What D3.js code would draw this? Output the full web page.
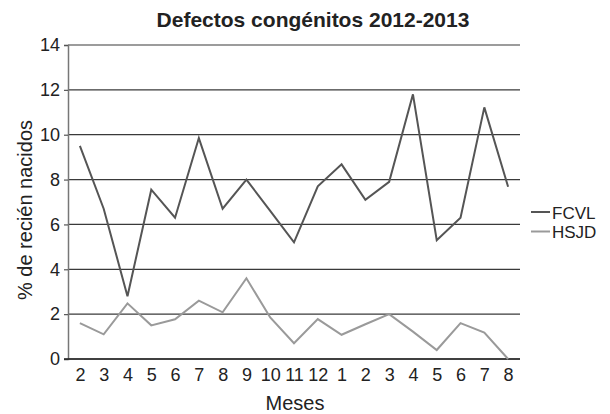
<!DOCTYPE html>
<html>
<head>
<meta charset="utf-8">
<script src="https://cdn.jsdelivr.net/npm/d3@7"></script>
<style>
  html, body { margin: 0; padding: 0; background: #fff; }
  svg { display: block; font-family: "Liberation Sans", Arial, Helvetica, sans-serif; }
</style>
</head>
<body>
<svg id="chart" width="610" height="414"></svg>
<script>
// Months Feb 2012 – Aug 2013
const months = ["2","3","4","5","6","7","8","9","10","11","12","1","2","3","4","5","6","7","8"];
const fcvl = [9.5, 6.7, 2.8, 7.55, 6.3, 9.85, 6.7, 8.0, 6.6, 5.2, 7.7, 8.68, 7.1, 7.9, 11.8, 5.3, 6.3, 11.22, 7.68];
const hsjd = [1.6, 1.1, 2.48, 1.5, 1.77, 2.6, 2.08, 3.6, 1.85, 0.7, 1.78, 1.08, 1.55, 2.0, 1.22, 0.4, 1.6, 1.18, 0.0];
const yTicks = [0, 2, 4, 6, 8, 10, 12, 14];
const seriesNames = ["FCVL", "HSJD"];
const seriesColors = ["#555555", "#9a9a9a"];

const FONT = "\"Liberation Sans\", Arial, Helvetica, sans-serif";
const svg = d3.select("#chart");
const plotLeft = 68, plotRight = 520, plotTop = 45, plotBottom = 359;

const x = d3.scalePoint().domain(d3.range(months.length)).range([plotLeft, plotRight]).padding(0.5);
const y = d3.scaleLinear().domain([0, 14]).range([plotBottom, plotTop]);

// Title
svg.append("text")
  .attr("x", 313).attr("y", 27)
  .attr("text-anchor", "middle")
  .attr("font-family", FONT)
  .attr("font-size", 21).attr("font-weight", "bold")
  .attr("fill", "#222")
  .text("Defectos congénitos 2012-2013");

// Horizontal gridlines
svg.append("g").selectAll("line").data(yTicks).join("line")
  .attr("x1", plotLeft).attr("x2", plotRight)
  .attr("y1", d => y(d)).attr("y2", d => y(d))
  .attr("stroke", "#3a3a3a").attr("stroke-width", 1.2);

// Y axis
const yAxis = svg.append("g").attr("transform", `translate(${plotLeft},0)`)
  .call(d3.axisLeft(y).tickValues(yTicks).tickSize(4).tickPadding(4).tickFormat(d3.format("d")));
yAxis.select(".domain").attr("stroke", "#777").attr("stroke-width", 1.5);
yAxis.selectAll(".tick line").attr("stroke", "#555").attr("stroke-width", 1.2);
yAxis.selectAll(".tick text").attr("font-size", 18).attr("fill", "#222")
  .attr("font-family", FONT);

// X axis baseline
svg.append("line")
  .attr("x1", plotLeft - 4).attr("x2", plotRight)
  .attr("y1", y(0)).attr("y2", y(0))
  .attr("stroke", "#222").attr("stroke-width", 1.4);

// X tick labels
const xAxis = svg.append("g").attr("transform", `translate(0,${plotBottom})`)
  .call(d3.axisBottom(x).tickSize(0).tickPadding(9).tickFormat(i => months[i]));
xAxis.select(".domain").remove();
xAxis.selectAll(".tick text").attr("font-size", 18).attr("fill", "#222")
  .attr("font-family", FONT);

// Axis titles
svg.append("text")
  .attr("x", 295).attr("y", 410)
  .attr("text-anchor", "middle")
  .attr("font-family", FONT)
  .attr("font-size", 20).attr("fill", "#222")
  .text("Meses");

svg.append("text")
  .attr("transform", "translate(32,210) rotate(-90)")
  .attr("text-anchor", "middle")
  .attr("font-family", FONT)
  .attr("font-size", 20).attr("fill", "#222")
  .text("% de recién nacidos");

// Series lines
const line = d3.line().x((d, i) => x(i)).y(d => y(d));
[fcvl, hsjd].forEach((vals, k) => {
  svg.append("path")
    .datum(vals)
    .attr("d", line)
    .attr("fill", "none")
    .attr("stroke", seriesColors[k])
    .attr("stroke-width", 2)
    .attr("stroke-linejoin", "miter");
});

// Legend
const legend = svg.append("g");
seriesNames.forEach((name, k) => {
  const ly = 212 + k * 19.5;
  legend.append("line")
    .attr("x1", 531).attr("x2", 550)
    .attr("y1", ly).attr("y2", ly)
    .attr("stroke", seriesColors[k]).attr("stroke-width", 2);
  legend.append("text")
    .attr("x", 552).attr("y", ly + 6.5)
    .attr("font-family", FONT)
    .attr("font-size", 17).attr("fill", "#222")
    .text(name);
});
</script>
</body>
</html>
